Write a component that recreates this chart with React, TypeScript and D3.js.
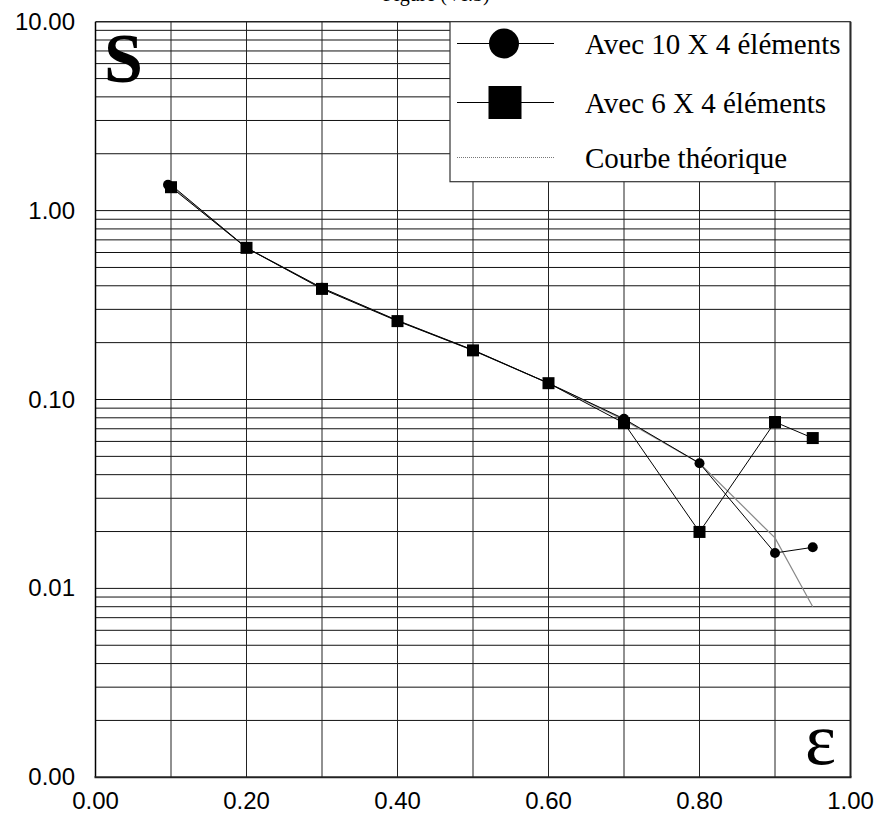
import React from "react";
import * as d3 from "d3";

const xValues = [0.1, 0.2, 0.3, 0.4, 0.5, 0.6, 0.7, 0.8, 0.9, 0.95];
const series10x4 = [1.37, 0.635, 0.39, 0.262, 0.183, 0.122, 0.079, 0.046, 0.0154, 0.0165];
const series6x4 = [1.33, 0.635, 0.385, 0.26, 0.182, 0.122, 0.075, 0.0199, 0.076, 0.0625];
const theoretical = [1.35, 0.635, 0.388, 0.262, 0.182, 0.122, 0.078, 0.046, 0.0185, 0.008];
const xTickValues = [0, 0.2, 0.4, 0.6, 0.8, 1.0];
const xTickLabels = ["0.00", "0.20", "0.40", "0.60", "0.80", "1.00"];
const yTickValues = [10, 1, 0.1, 0.01, 0.001];
const yTickLabels = ["10.00", "1.00", "0.10", "0.01", "0.00"];
const legendLabels = ["Avec 10 X 4 éléments", "Avec 6 X 4 éléments", "Courbe théorique"];
const titleText = "Figure (VI.3)";

const W = 881;
const H = 826;

export default function App() {
  const x = d3.scaleLinear().domain([0, 1]).range([95.5, 850.5]);
  const y = d3.scaleLog().domain([0.001, 10]).range([777.3, 21.7]);

  const vGrid = d3.range(1, 10).map((i) => i / 10);
  const hGrid: number[] = [];
  for (let e = -3; e <= 0; e++) {
    for (let k = 1; k <= 9; k++) {
      const v = k * Math.pow(10, e);
      if (v > 0.001 && v < 10) hGrid.push(v);
    }
  }

  const line = d3
    .line<number>()
    .x((_, i) => x(xValues[i]))
    .y((d) => y(d));

  const serif = "Liberation Serif, Times New Roman, serif";
  const sans = "Liberation Sans, Arial, sans-serif";

  return (
    <svg
      width={W}
      height={H}
      style={{ position: "absolute", left: 0, top: 0, background: "#fff" }}
    >
      <rect x={0} y={0} width={W} height={H} fill="#fff" />
      <text x={383} y={1} style={{ fontFamily: serif }} fontSize={20} fill="#000">
        {titleText}
      </text>

      {/* grid */}
      {hGrid.map((v, i) => (
        <line
          key={"h" + i}
          x1={x(0)}
          x2={x(1)}
          y1={y(v)}
          y2={y(v)}
          stroke="#111"
          strokeWidth={1}
        />
      ))}
      {vGrid.map((v, i) => (
        <line
          key={"v" + i}
          x1={x(v)}
          x2={x(v)}
          y1={y(10)}
          y2={y(0.001)}
          stroke="#222"
          strokeWidth={1}
        />
      ))}

      {/* frame */}
      <line x1={x(0)} x2={x(1)} y1={y(10)} y2={y(10)} stroke="#222" strokeWidth={1.5} />
      <line x1={x(0)} x2={x(0)} y1={y(10)} y2={y(0.001)} stroke="#000" strokeWidth={1.5} />
      <line x1={x(1)} x2={x(1)} y1={y(10)} y2={y(0.001)} stroke="#222" strokeWidth={2} />
      <line x1={x(0) - 1} x2={x(1) + 1} y1={y(0.001)} y2={y(0.001)} stroke="#222" strokeWidth={2} />

      {/* S label */}
      <text x={104} y={82} style={{ fontFamily: serif }} fontSize={70} fontWeight="bold" fill="#000">
        S
      </text>
      {/* epsilon label */}
      <text x={805} y={764} style={{ fontFamily: serif }} fontSize={74} fill="#000">
        ε
      </text>

      {/* legend box */}
      <rect x={450} y={21.7} width={400} height={160} fill="#fff" stroke="#333" strokeWidth={1.2} />
      <line x1={457} x2={554} y1={43.5} y2={43.5} stroke="#000" strokeWidth={1} />
      <circle cx={504} cy={43.5} r={15} fill="#000" />
      <text x={585} y={54} style={{ fontFamily: serif }} fontSize={29} fill="#000">
        {legendLabels[0]}
      </text>
      <line x1={457} x2={554} y1={102.5} y2={102.5} stroke="#000" strokeWidth={1} />
      <rect x={488.5} y={86} width={33} height={33} fill="#000" />
      <text x={585} y={113} style={{ fontFamily: serif }} fontSize={29} fill="#000">
        {legendLabels[1]}
      </text>
      <line
        x1={457}
        x2={554}
        y1={157.5}
        y2={157.5}
        stroke="#777"
        strokeWidth={1}
        strokeDasharray="1,1"
      />
      <text x={585} y={167.5} style={{ fontFamily: serif }} fontSize={29} fill="#000">
        {legendLabels[2]}
      </text>

      {/* series */}
      <path d={line(theoretical) || ""} fill="none" stroke="#888" strokeWidth={1.2} />
      <path d={line(series10x4) || ""} fill="none" stroke="#000" strokeWidth={1} />
      <path d={line(series6x4) || ""} fill="none" stroke="#000" strokeWidth={1} />
      {series10x4.map((v, i) => (
        <circle key={"c" + i} cx={x(xValues[i]) - (i === 0 ? 3 : 0)} cy={y(v)} r={5} fill="#000" />
      ))}
      {series6x4.map((v, i) => (
        <rect
          key={"s" + i}
          x={x(xValues[i]) - 6}
          y={y(v) - 6}
          width={12}
          height={12}
          fill="#000"
        />
      ))}

      {/* y tick labels */}
      {yTickValues.map((v, i) => (
        <text
          key={"yl" + i}
          x={75}
          y={y(v) + 8}
          textAnchor="end"
          style={{ fontFamily: sans }}
          fontSize={24}
          fill="#000"
        >
          {yTickLabels[i]}
        </text>
      ))}
      {/* x tick labels */}
      {xTickValues.map((v, i) => (
        <text
          key={"xl" + i}
          x={x(v)}
          y={809}
          textAnchor="middle"
          style={{ fontFamily: sans }}
          fontSize={24}
          fill="#000"
        >
          {xTickLabels[i]}
        </text>
      ))}
    </svg>
  );
}
